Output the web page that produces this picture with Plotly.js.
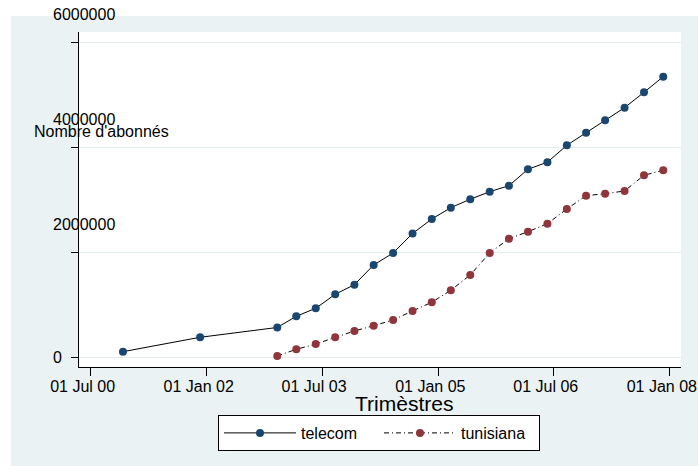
<!DOCTYPE html>
<html>
<head>
<meta charset="utf-8">
<script src="https://cdn.plot.ly/plotly-3.0.1.min.js"></script>
<style>html,body{margin:0;padding:0;background:#fff;}#chart{width:698px;height:466px;}</style>
</head>
<body>
<div id="chart"></div>
<script>
// ---- data ----
const telecomDates = ['2000-12-01','2001-12-01','2002-12-01','2003-03-01','2003-06-01','2003-09-01','2003-12-01',
  '2004-03-01','2004-06-01','2004-09-01','2004-12-01','2005-03-01','2005-06-01','2005-09-01','2005-12-01',
  '2006-03-01','2006-06-01','2006-09-01','2006-12-01','2007-03-01','2007-06-01','2007-09-01','2007-12-01'];
const telecomValues = [105000, 379000, 566000, 779000, 931000, 1198000, 1381000,
  1756000, 1985000, 2356000, 2632000, 2848000, 3008000, 3152000, 3267000,
  3579000, 3714000, 4036000, 4276000, 4512000, 4752000, 5046000, 5343000];
const tunisianaDates = ['2002-12-01','2003-03-01','2003-06-01','2003-09-01','2003-12-01',
  '2004-03-01','2004-06-01','2004-09-01','2004-12-01','2005-03-01','2005-06-01','2005-09-01','2005-12-01',
  '2006-03-01','2006-06-01','2006-09-01','2006-12-01','2007-03-01','2007-06-01','2007-09-01','2007-12-01'];
const tunisianaValues = [23000, 150000, 251000, 379000, 499000,
  600000, 709000, 880000, 1046000, 1274000, 1566000, 1985000, 2257000,
  2390000, 2543000, 2823000, 3076000, 3114000, 3166000, 3465000, 3560000];
const xTickVals = ['2000-07-01','2002-01-01','2003-07-01','2005-01-01','2006-07-01','2008-01-01'];
const xTickText = ['01 Jul 00','01 Jan 02','01 Jul 03','01 Jan 05','01 Jul 06','01 Jan 08'];
const yTickVals = [0, 2000000, 4000000, 6000000];
const yTickText = ['0', '2000000', '4000000', '6000000'];
const seriesNames = ['telecom', 'tunisiana'];

const FONT = 'Liberation Sans, Arial, sans-serif';
const W = 698, H = 466, L = 79, R = 17, T = 32, B = 99;
const pw = W - L - R, ph = H - T - B;
const px = v => (v - L) / pw;         // pixel x -> paper x
const py = v => (H - B - v) / ph;     // pixel y -> paper y

const traces = [
  {x: telecomDates, y: telecomValues, name: seriesNames[0], type: 'scatter', mode: 'lines+markers',
   line: {color: '#000000', width: 1}, marker: {color: '#1a476f', size: 8}},
  {x: tunisianaDates, y: tunisianaValues, name: seriesNames[1], type: 'scatter', mode: 'lines+markers',
   line: {color: '#000000', width: 1, dash: '5px,3px,1px,3px'}, marker: {color: '#90353b', size: 8}}
];

const annotations = yTickVals.map((v, i) => ({
  xref: 'paper', yref: 'y', x: px(51), y: v, xanchor: 'left', yanchor: 'middle',
  yshift: v === 0 ? 0 : 28, text: yTickText[i], showarrow: false,
  font: {family: FONT, size: 16, color: '#000'}
}));
annotations.push({xref: 'paper', yref: 'paper', x: px(32), y: py(131), xanchor: 'left', yanchor: 'middle',
  text: "Nombre d'abonnés", showarrow: false, font: {family: FONT, size: 16, color: '#000'}});
annotations.push({xref: 'paper', yref: 'paper', x: px(403.5), y: py(403), xanchor: 'center', yanchor: 'middle',
  text: 'Trimèstres', showarrow: false, font: {family: FONT, size: 21, color: '#000'}});

const layout = {
  width: W, height: H,
  margin: {l: L, r: R, t: T, b: B, pad: 0},
  paper_bgcolor: '#ffffff', plot_bgcolor: '#ffffff',
  font: {family: FONT, size: 16, color: '#000'},
  showlegend: true,
  legend: {orientation: 'h', x: px(379), xanchor: 'center', y: py(415), yanchor: 'top',
    bordercolor: '#000', borderwidth: 1, bgcolor: '#fff', font: {family: FONT, size: 16, color: '#000'},
    itemwidth: 72, entrywidth: 73},
  xaxis: {type: 'date', range: ['2000-05-07', '2008-02-23'], tickmode: 'array', tickvals: xTickVals, ticktext: xTickText,
    ticks: 'outside', ticklen: 8, tickcolor: '#000', tickwidth: 1, showline: true, linecolor: '#000', linewidth: 1,
    showgrid: false, zeroline: false, ticklabelshift: -8, ticklabelstandoff: -3,
    tickfont: {family: FONT, size: 16, color: '#000'}},
  yaxis: {range: [-187000, 6194000], tickmode: 'array', tickvals: yTickVals, ticks: 'outside', ticklen: 7,
    tickcolor: '#000', tickwidth: 1, showline: true, linecolor: '#000', linewidth: 1, showticklabels: false,
    showgrid: true, gridcolor: '#e4eef0', gridwidth: 1, zeroline: false},
  shapes: [
    {type: 'rect', xref: 'paper', yref: 'paper', x0: px(11), x1: px(698), y0: py(466), y1: py(16),
     fillcolor: '#eaf2f3', line: {width: 0}, layer: 'below'},
    {type: 'rect', xref: 'paper', yref: 'paper', x0: 0, x1: 1, y0: 0, y1: 1,
     fillcolor: '#ffffff', line: {width: 0}, layer: 'below'}
  ],
  annotations: annotations
};

Plotly.newPlot('chart', traces, layout, {displayModeBar: false, staticPlot: true});
</script>
</body>
</html>
